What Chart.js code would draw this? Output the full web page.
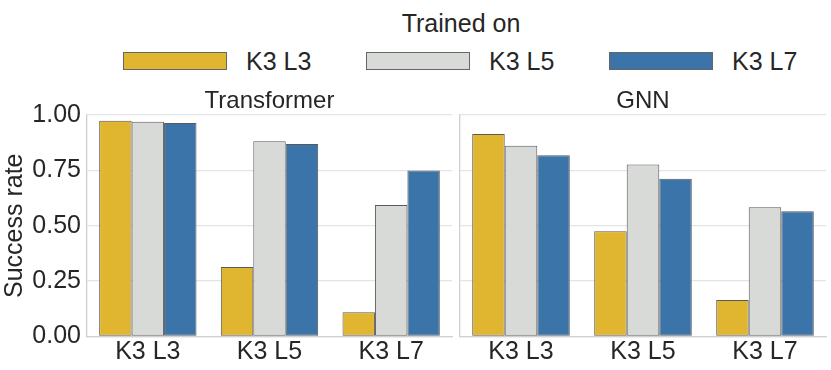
<!DOCTYPE html>
<html>
<head>
<meta charset="utf-8">
<script src="https://cdn.jsdelivr.net/npm/chart.js@4"></script>
<style>
  body { margin: 0; background: #fff; }
  #wrap { position: relative; width: 831px; height: 370px; overflow: hidden;
          font-family: "Liberation Sans", Arial, sans-serif; color: #262626; }
  #legend-title { position: absolute; left: 0; width: 922px; top: 8px; text-align: center;
                  font-size: 25px; line-height: 30px; }
  .leg-item { position: absolute; top: 46px; height: 30px; display: flex; align-items: center; }
  .leg-box { width: 102px; height: 16px; border: 1px solid #666; }
  .leg-label { margin-left: 19px; font-size: 25px; }
  canvas { position: absolute; }
</style>
</head>
<body>
<div id="wrap">
  <div id="legend-title">Trained on</div>
  <canvas id="left" width="456" height="290" style="left:0;top:80px"></canvas>
  <canvas id="right" width="376" height="290" style="left:455px;top:80px"></canvas>
</div>
<script>
// veriler
const testSets = ['K3 L3', 'K3 L5', 'K3 L7'];
const trainedOn = ['K3 L3', 'K3 L5', 'K3 L7'];
const barColors = ['#e0b52f', '#d8dad7', '#3a74a9'];
const yTicks = [0, 0.25, 0.5, 0.75, 1.0];

// transformer
const transL3 = [0.974, 0.314, 0.109];
const transL5 = [0.970, 0.881, 0.594];
const transL7 = [0.964, 0.869, 0.750];

// gnn
const gnnL3 = [0.914, 0.475, 0.165];
const gnnL5 = [0.861, 0.777, 0.583];
const gnnL7 = [0.818, 0.712, 0.565];

const FONT = '"Liberation Sans", Arial, sans-serif';
const TXT = '#262626';

// legend (html)
const wrap = document.getElementById('wrap');
trainedOn.forEach((name, i) => {
    const item = document.createElement('div');
    item.className = 'leg-item';
    item.style.left = (123 + i * 243) + 'px';
    item.innerHTML = `<div class="leg-box" style="background:${barColors[i]}"></div>
                      <span class="leg-label">${name}</span>`;
    wrap.appendChild(item);
});

// panel basligi chartArea ortasina
const panelTitle = {
    id: 'panelTitle',
    afterDraw(chart, args, opts) {
        const { ctx, chartArea } = chart;
        ctx.save();
        ctx.font = `24px ${FONT}`;
        ctx.fillStyle = TXT;
        ctx.textAlign = 'center';
        ctx.textBaseline = 'middle';
        ctx.fillText(opts.text, (chartArea.left + chartArea.right) / 2, 21);
        ctx.restore();
    }
};

function makeDatasets(series) {
    return series.map((vals, i) => ({
        label: trainedOn[i],
        data: vals,
        backgroundColor: barColors[i],
        borderColor: '#5a5a5a',
        borderWidth: 1,
        borderSkipped: false,
        categoryPercentage: 0.8,
        barPercentage: 1.0
    }));
}

function makeChart(id, title, series, showY) {
    return new Chart(document.getElementById(id), {
        type: 'bar',
        data: { labels: testSets, datasets: makeDatasets(series) },
        plugins: [panelTitle],
        options: {
            responsive: false,
            animation: false,
            devicePixelRatio: 1,
            layout: { padding: { left: showY ? 0 : 5, right: showY ? 4 : 5, top: 35, bottom: 0 } },
            plugins: {
                legend: { display: false },
                tooltip: { enabled: false },
                title: { display: false },
                panelTitle: { text: title }
            },
            scales: {
                x: {
                    grid: { display: false, drawTicks: false },
                    border: { display: true, color: '#d0d0d0', width: 1.3 },
                    ticks: { color: TXT, font: { family: FONT, size: 25 }, padding: 1, maxRotation: 0 },
                    afterFit: s => { s.height = 33.5; }
                },
                y: {
                    min: 0,
                    max: 1,
                    afterBuildTicks: s => { s.ticks = yTicks.map(v => ({ value: v })); },
                    grid: { color: '#e4e4e4', lineWidth: 1.3, drawTicks: false },
                    border: { display: true, color: '#d0d0d0', width: 1.3 },
                    ticks: {
                        display: showY,
                        color: TXT,
                        font: { family: FONT, size: 25 },
                        padding: 6,
                        callback: v => Number(v).toFixed(2)
                    },
                    title: {
                        display: showY,
                        text: 'Success rate',
                        color: TXT,
                        font: { family: FONT, size: 25 },
                        padding: 0
                    },
                    afterFit: s => { s.width = showY ? 87 : 0; }
                }
            }
        }
    });
}

makeChart('left', 'Transformer', [transL3, transL5, transL7], true);
makeChart('right', 'GNN', [gnnL3, gnnL5, gnnL7], false);
</script>
</body>
</html>
